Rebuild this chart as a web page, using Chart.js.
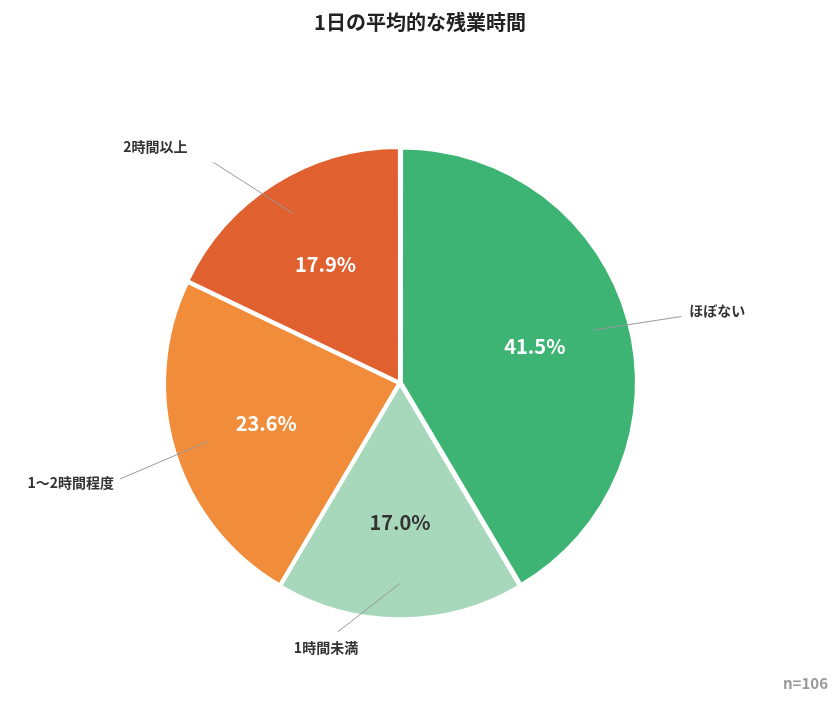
<!DOCTYPE html>
<html><head><meta charset="utf-8">
<script src="https://cdn.jsdelivr.net/npm/chart.js@4"></script>
<style>html,body{margin:0;padding:0;background:#fff}#w{width:840px;height:704px}</style>
</head><body><div id="w"><canvas id="c" width="840" height="704"></canvas></div>
<script>
const categories = ["ほぼない","1時間未満","1〜2時間程度","2時間以上"];
const values = [41.5,17.0,23.6,17.9];
const colors = ["#3DB474","#A8D8BC","#F08C3A","#E06030"];
const valueTextColors = ["#ffffff","#333333","#ffffff","#ffffff"];
const titleText = "1日の平均的な残業時間";
const noteText = "n=106";
const FONT = "'Noto Sans CJK JP','Noto Sans',sans-serif";
// leader line end radius factor and angle tweak (deg), label alignment
const leaders = [
  {r:1.24, da:2, align:"left", dx:8, dy:-6},
  {r:1.1, da:14, align:"center", dx:-12, dy:16},
  {r:1.27, da:-2, align:"right", dx:-6, dy:4},
  {r:1.24, da:-8, align:"right", dx:-26, dy:-16}
];
const plugin = {
  id:"labels",
  afterDatasetsDraw(chart){
    const ctx = chart.ctx;
    const meta = chart.getDatasetMeta(0);
    ctx.save();
    meta.data.forEach((arc,i)=>{
      const p = arc.getProps(["x","y","startAngle","endAngle","outerRadius"],true);
      const mid = (p.startAngle+p.endAngle)/2;
      // value text
      const rv = p.outerRadius*0.6;
      ctx.font = "bold 20px "+FONT;
      ctx.fillStyle = valueTextColors[i];
      ctx.textAlign="center"; ctx.textBaseline="middle";
      ctx.fillText(values[i].toFixed(1)+"%", p.x+Math.cos(mid)*rv, p.y+Math.sin(mid)*rv);
      // leader
      const L = leaders[i];
      const r0 = p.outerRadius*0.86;
      const a1 = mid + L.da*Math.PI/180;
      const x0=p.x+Math.cos(mid)*r0, y0=p.y+Math.sin(mid)*r0;
      const x1=p.x+Math.cos(a1)*p.outerRadius*L.r, y1=p.y+Math.sin(a1)*p.outerRadius*L.r;
      ctx.strokeStyle="#999"; ctx.lineWidth=1;
      ctx.beginPath(); ctx.moveTo(x0,y0); ctx.lineTo(x1,y1); ctx.stroke();
      ctx.font = "bold 14px "+FONT;
      ctx.fillStyle="#333"; ctx.textAlign=L.align;
      ctx.fillText(categories[i], x1+L.dx, y1+L.dy);
    });
    ctx.font="bold 20px "+FONT; ctx.fillStyle="#222"; ctx.textAlign="center";
    ctx.fillText(titleText, 420, 22);
    ctx.font="bold 15px "+FONT; ctx.fillStyle="#999"; ctx.textAlign="right";
    ctx.fillText(noteText, 828, 683);
    ctx.restore();
  }
};
new Chart(document.getElementById("c"),{
  type:"pie",
  data:{labels:categories,datasets:[{data:values,backgroundColor:colors,borderColor:"#fff",borderWidth:2,offset:8}]},
  options:{responsive:false,animation:false,
    layout:{padding:{top:145,bottom:83,left:162,right:202}},
    plugins:{legend:{display:false},tooltip:{enabled:false},title:{display:false}}},
  plugins:[plugin]
});
</script></body></html>
